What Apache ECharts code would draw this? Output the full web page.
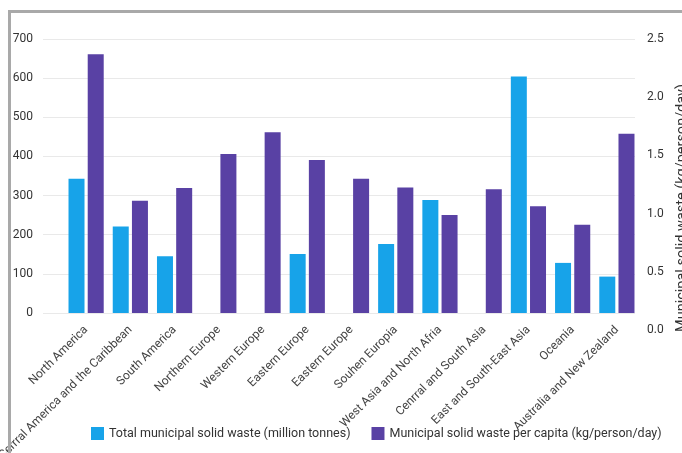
<!DOCTYPE html>
<html>
<head>
<meta charset="utf-8">
<script src="https://cdn.jsdelivr.net/npm/echarts@6/dist/echarts.min.js"></script>
<style>
  html, body { margin: 0; padding: 0; background: #fff; }
  #wrap { position: relative; width: 682px; height: 453px; overflow: hidden; }
  #chart { position: absolute; left: 0; top: 0; width: 682px; height: 453px; }
  #frame { position: absolute; left: 8px; top: 10px; width: 700px; height: 460px;
           border-left: 3px solid #a9a9a9; border-top: 3px solid #a9a9a9; pointer-events: none; }
</style>
</head>
<body>
<div id="wrap"><div id="chart"></div><div id="frame"></div></div>
<script>
const categories = [
  "North America",
  "Cerrral America and the Caribbean",
  "South America",
  "Northern Europe",
  "Western Europe",
  "Eastern Europe",
  "Eastern Europe",
  "Souhen Europia",
  "West Asia and North Afria",
  "Cenrral and South Asia",
  "East and South-East Asia",
  "Oceania",
  "Australia and New Zealand"
];
const totalWaste = [343, 221, 145, null, null, 151, null, 176, 289, null, 604, 128, 93];
const perCapita = [2.36, 1.025, 1.14, 1.45, 1.65, 1.395, 1.225, 1.145, 0.895, 1.13, 0.975, 0.805, 1.635];
const leftTicks = { min: 0, max: 700, interval: 100 };
const rightTicks = { min: 0, max: 2.5, interval: 0.5 };
const seriesNames = ["Total municipal solid waste (million tonnes)", "Municipal solid waste per capita (kg/person/day)"];
const rightAxisName = "Municipal solid waste (kg/person/day)";

const chart = echarts.init(document.getElementById('chart'), null, { renderer: 'canvas' });
const font = 'Roboto, "Noto Sans", sans-serif';
chart.setOption({
  animation: false,
  backgroundColor: '#fff',
  textStyle: { fontFamily: font },
  grid: [
    { left: 43, right: 47, top: 39, bottom: 140, outerBoundsMode: 'none', containLabel: false },
    { left: 64, right: 43, top: 39, bottom: 140, outerBoundsMode: 'none', containLabel: false },
    { left: 43, right: 47, top: 39, bottom: 123, outerBoundsMode: 'none', containLabel: false }
  ],
  legend: {
    data: seriesNames,
    left: 91, top: 427, width: 640, padding: 0,
    itemWidth: 13, itemHeight: 13, itemGap: 21,
    icon: 'rect',
    textStyle: { fontFamily: font, fontSize: 12.5, color: '#333' }
  },
  xAxis: [
    { gridIndex: 0, type: 'category', data: categories, show: false },
    { gridIndex: 1, type: 'category', data: categories,
      axisLine: { show: false }, axisTick: { show: false },
      axisLabel: { rotate: 45, interval: 0, fontSize: 12, color: '#444', margin: 15, fontFamily: font } },
    { gridIndex: 2, type: 'category', data: categories, show: false }
  ],
  yAxis: [
    { gridIndex: 0, type: 'value', min: leftTicks.min, max: leftTicks.max, interval: leftTicks.interval,
      axisLine: { show: false }, axisTick: { show: false },
      axisLabel: { fontSize: 12, color: '#333', margin: 10, fontFamily: font },
      splitLine: { lineStyle: { color: '#e9e9e9', width: 1 } } },
    { gridIndex: 1, type: 'value', min: leftTicks.min, max: leftTicks.max, interval: leftTicks.interval, show: false, splitLine: { show: false } },
    { gridIndex: 1, type: 'value', min: rightTicks.min, max: rightTicks.max, interval: rightTicks.interval, show: false, splitLine: { show: false } },
    { gridIndex: 2, type: 'value', position: 'right', min: rightTicks.min, max: rightTicks.max, interval: rightTicks.interval,
      axisLine: { show: false }, axisTick: { show: false }, splitLine: { show: false },
      axisLabel: { fontSize: 12, color: '#333', margin: 12, fontFamily: font, formatter: v => v.toFixed(1) },
      name: rightAxisName, nameLocation: 'middle', nameRotate: 90, nameGap: 36,
      nameTextStyle: { fontSize: 14.5, color: '#333', fontFamily: font, padding: [0, 47, 0, 0] } }
  ],
  series: [
    { name: seriesNames[0], type: 'bar', xAxisIndex: 1, yAxisIndex: 1, data: totalWaste,
      barWidth: 16, barGap: '20%', itemStyle: { color: '#17a3e9' } },
    { name: seriesNames[1], type: 'bar', xAxisIndex: 1, yAxisIndex: 2, data: perCapita,
      barWidth: 16, barGap: '20%', itemStyle: { color: '#5941a4' } }
  ]
});
</script>
</body>
</html>
